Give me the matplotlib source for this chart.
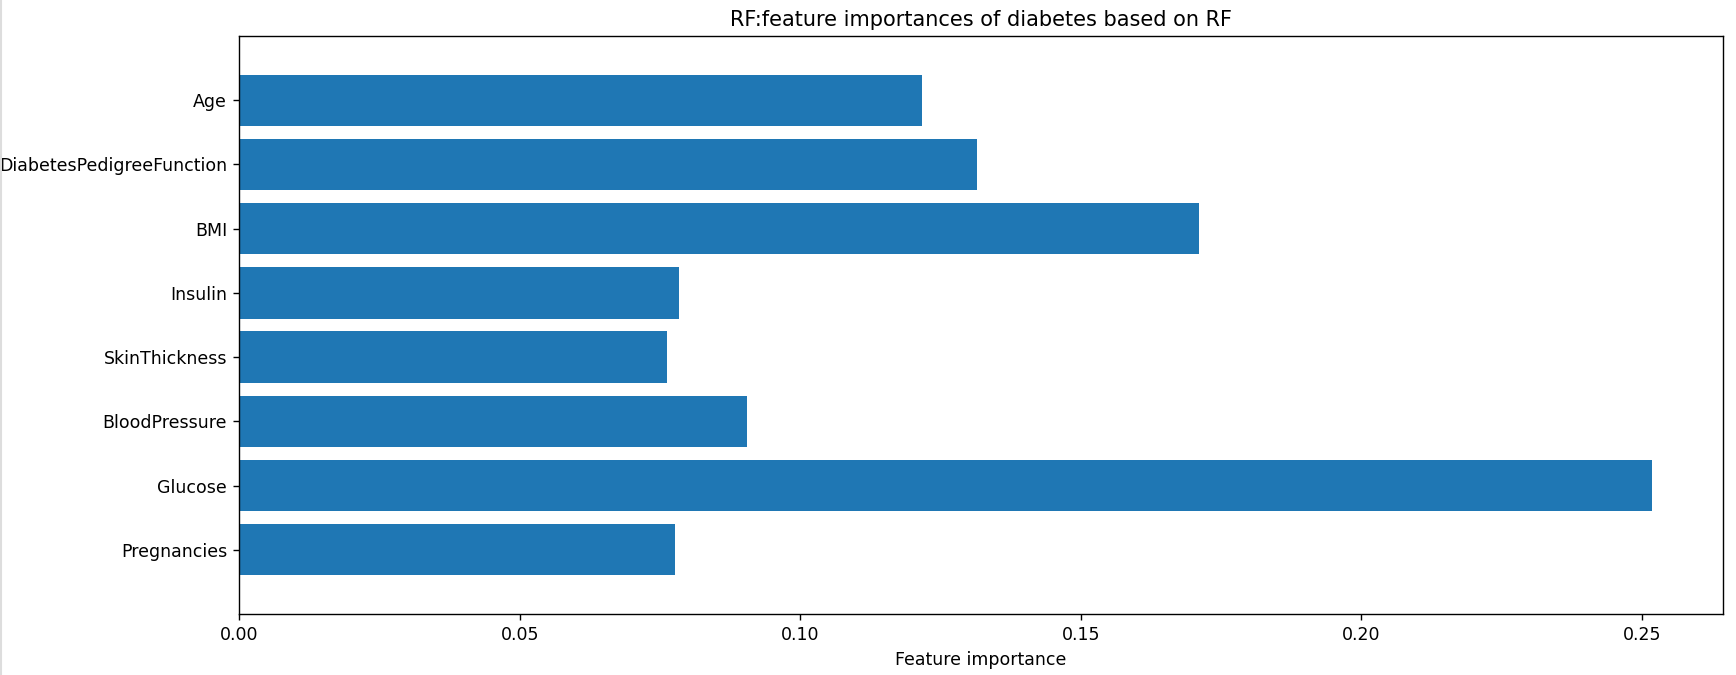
import matplotlib
matplotlib.use("Agg")
import matplotlib.pyplot as plt
import numpy as np
from matplotlib.lines import Line2D

features = ["Pregnancies", "Glucose", "BloodPressure", "SkinThickness",
            "Insulin", "BMI", "DiabetesPedigreeFunction", "Age"]
importances = [0.0777, 0.2519, 0.0906, 0.0762, 0.0784, 0.1711, 0.1315, 0.1217]
xticks = [0.00, 0.05, 0.10, 0.15, 0.20, 0.25]
xtick_labels = ["0.00", "0.05", "0.10", "0.15", "0.20", "0.25"]

DPI = 125
n = len(features)
fig = plt.figure(figsize=(1736 / DPI, 675 / DPI), dpi=DPI)
ax = fig.add_axes([0.1378, 0.0904, 0.8547, 0.8563])
ax.barh(range(n), importances, align="center", color="#1f77b4", height=0.8)
ax.set_yticks(np.arange(n))
ax.set_yticklabels(features, fontsize=10)
ax.set_xticks(xticks)
ax.set_xticklabels(xtick_labels, fontsize=10)
ax.set_ylim(-1, n)
ax.set_xlim(0, max(importances) * 1.05)
ax.set_xlabel("Feature importance", fontsize=10)
ax.set_title("RF:feature importances of diabetes based on RF", fontsize=12)

fig.add_artist(Line2D([0.0008, 0.0008], [0, 1], color="#dddddd", lw=1.2,
                      transform=fig.transFigure))
fig.savefig("out.png", dpi=DPI)
